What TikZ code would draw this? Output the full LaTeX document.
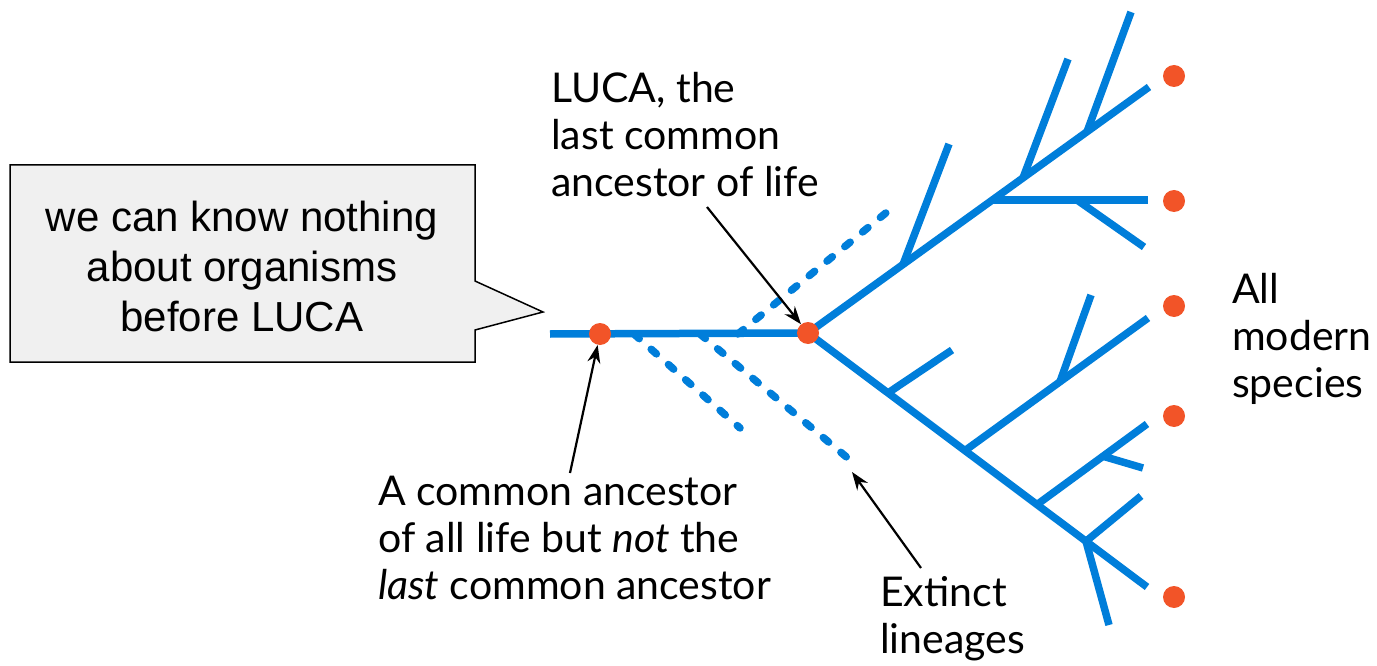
\documentclass[tikz,border=0pt]{standalone}
\usepackage{fontspec}
\setmainfont{Lato}
\newfontfamily\arialfont{Liberation Sans}
\usetikzlibrary{arrows.meta,calc}
\definecolor{treeblue}{RGB}{0,126,218}
\definecolor{dotred}{RGB}{242,84,40}
\definecolor{boxgray}{RGB}{240,240,240}
\begin{document}
\begin{tikzpicture}[x=1pt,y=-1pt,
  branch/.style={treeblue, line width=7.5pt},
  extinct/.style={treeblue, line width=7.5pt, line cap=round, dash pattern=on 7pt off 16pt},
  taxon/.style={circle, fill=dotred, minimum size=22pt, inner sep=0pt},
  pointer/.style={-{Stealth[length=18pt,width=13pt]}, line width=2.2pt},
  annot/.style={font=\fontsize{41}{47}\selectfont, align=left, anchor=north west, inner sep=0pt},
  notetext/.style={font=\arialfont\fontsize{42}{50}\selectfont, align=center, inner sep=0pt},
]
\useasboundingbox (0,0) rectangle (1377,666);

% callout
\draw[fill=boxgray, line width=1.5pt] (10,165) -- (475,165) -- (475,281) -- (543,312) -- (475,330) -- (475,362) -- (10,362) -- cycle;
\node[notetext] (note) at (242,266) {we can know nothing\\about organisms\\before LUCA};

% tree
\coordinate (root) at (550,334);
\coordinate (luca) at (808,333);
\coordinate (uend) at (1149,87);
\coordinate (lend) at (1147,587);

% extinct lineages (dashed)
\coordinate (x1s) at (738,334); \coordinate (x1e) at (887,212);
\coordinate (x2s) at (634,334); \coordinate (x2e) at (740,428);
\coordinate (x3s) at (700,334); \coordinate (x3e) at (850,460);
\draw[extinct] (x1s) -- (x1e);
\draw[extinct] (x2s) -- (x2e);
\draw[extinct] (x3s) -- (x3e);

\draw[branch] (root) -- (luca);
\draw[branch] (luca) -- (uend);
\draw[branch] (luca) -- (lend);

% upper clade
\coordinate (u1) at ($(luca)!0.2786!(uend)$);
\coordinate (u2) at ($(luca)!0.5396!(uend)$);
\coordinate (u3) at ($(luca)!0.6305!(uend)$);
\coordinate (u4) at ($(luca)!0.8182!(uend)$);
\draw[branch] (u1) -- (949,144);
\coordinate (u2e) at (1148,200);
\draw[branch] (u2 |- u2e) -- (u2e);
\coordinate (u2s) at (1077,200);
\draw[branch] (u2s) -- (1144,247);
\draw[branch] (u3) -- (1068,59);
\draw[branch] (u4) -- (1131,12);

% lower clade
\coordinate (l1) at ($(luca)!0.236!(lend)$);
\coordinate (l2) at ($(luca)!0.463!(lend)$);
\coordinate (l3) at ($(luca)!0.6755!(lend)$);
\coordinate (l4) at ($(luca)!0.820!(lend)$);
\draw[branch] (l1) -- (952,350);
\coordinate (l2e) at (1148,318);
\draw[branch] (l2) -- (l2e);
\draw[branch] ($(l2)!0.519!(l2e)$) -- (1091,295);
\coordinate (l3e) at (1147,424);
\draw[branch] (l3) -- (l3e);
\draw[branch] ($(l3)!0.6!(l3e)$) -- (1143,468);
\draw[branch] (l4) -- (1141,496);
\draw[branch] (l4) -- (1109,625);

% nodes
\node[taxon] (anc) at (600,334) {};
\node[taxon] (lucadot) at (luca) {};
\node[taxon] (t1) at (1174,76) {};
\node[taxon] (t2) at (1174,201) {};
\node[taxon] (t3) at (1174,306) {};
\node[taxon] (t4) at (1174,416) {};
\node[taxon] (t5) at (1174,597) {};

% labels
\node[annot] (lucalabel) at (551,72) {LUCA, the\\last common\\ancestor of life};
\node[annot] (anclabel) at (378,476) {A common ancestor\\of all life but \textit{not} the\\\textit{last} common ancestor};
\node[annot] (extlabel) at (880,576) {Extinct\\lineages};
\node[annot] (modlabel) at (1232,273) {All\\modern\\species};

% arrows
\coordinate (lucaarrow) at (707,207);
\coordinate (ancarrow) at (570,473);
\coordinate (extarrow) at (921,568);
\coordinate (extend) at (852,472);
\draw[pointer] (lucaarrow) -- (lucadot);
\draw[pointer] (ancarrow) -- (anc);
\draw[pointer] (extarrow) -- (extend);
\end{tikzpicture}
\end{document}
